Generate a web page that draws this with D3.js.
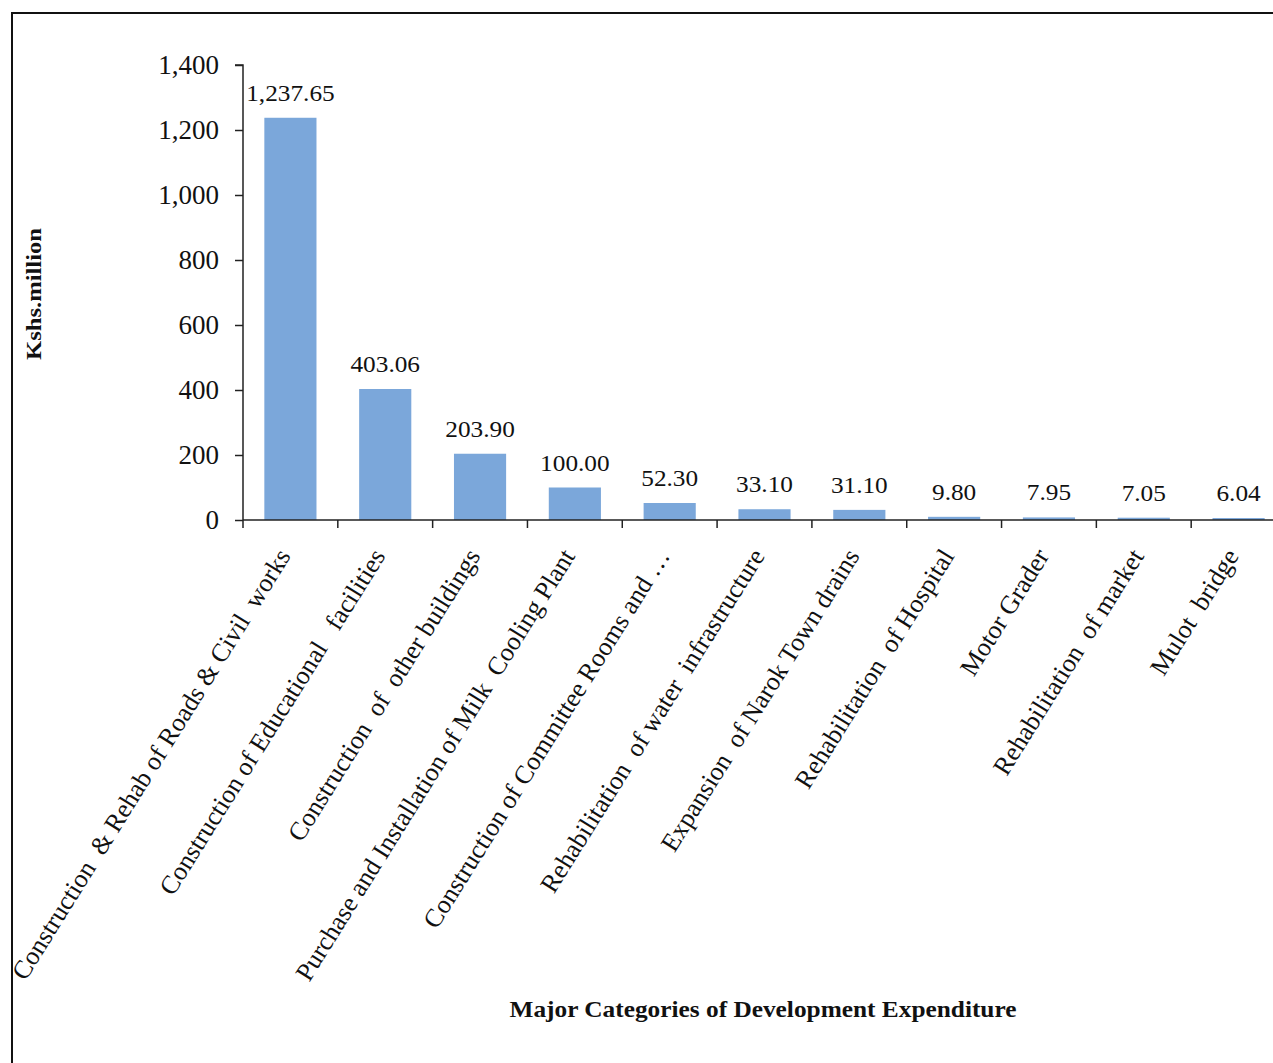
<!DOCTYPE html>
<html>
<head>
<meta charset="utf-8">
<script src="https://cdn.jsdelivr.net/npm/d3@7"></script>
<style>
  html, body { margin: 0; padding: 0; background: #fff; }
  svg { display: block; }
  text { font-family: "Liberation Serif", "Times New Roman", serif; fill: #111; }
</style>
</head>
<body>
<svg id="chart" width="1273" height="1063"></svg>
<script>
const categories = [
  "Construction  & Rehab of Roads & Civil  works",
  "Construction of Educational   facilities",
  "Construction  of  other buildings",
  "Purchase and Installation of Milk  Cooling Plant",
  "Construction of Committee Rooms and \u2026",
  "Rehabilitation  of water  infrastructure",
  "Expansion  of Narok Town drains",
  "Rehabilitation  of Hospital",
  "Motor Grader",
  "Rehabilitation  of market",
  "Mulot  bridge"
];
const values = [1237.65, 403.06, 203.90, 100.00, 52.30, 33.10, 31.10, 9.80, 7.95, 7.05, 6.04];
const yTicks = [0, 200, 400, 600, 800, 1000, 1200, 1400];
const yTitle = "Kshs.million";
const xTitle = "Major Categories of Development Expenditure";

const svg = d3.select("#chart");

// frame
svg.append("rect").attr("x", 12).attr("y", 13).attr("width", 1400).attr("height", 1200)
  .attr("fill", "none").attr("stroke", "#111").attr("stroke-width", 2);

const x = d3.scaleBand().domain(categories).range([243, 1286]).paddingInner(0.45).paddingOuter(0.225);
const y = d3.scaleLinear().domain([0, 1400]).range([520, 65]);

// bars
svg.append("g").selectAll("rect").data(values).join("rect")
  .attr("x", (d, i) => x(categories[i]))
  .attr("y", d => y(d))
  .attr("width", x.bandwidth())
  .attr("height", d => y(0) - y(d))
  .attr("fill", "#7ba7da");

// value labels
const fmt = d3.format(",.2f");
svg.append("g").selectAll("text").data(values).join("text")
  .attr("transform", (d, i) => {
    const cx = x(categories[i]) + x.bandwidth() / 2;
    return `translate(${cx},${y(d) - 17}) scale(1.1,1)`;
  })
  .attr("text-anchor", "middle")
  .style("font-size", "23px")
  .text(d => fmt(d));

// y axis
const yAxis = d3.axisLeft(y).tickValues(yTicks).tickFormat(d3.format(",")).tickSize(8).tickPadding(16);
const gy = svg.append("g").attr("transform", "translate(243,0)").call(yAxis);
gy.select(".domain").attr("stroke", "#222").attr("stroke-width", 1.5).attr("d", "M-8,65H0V520");
gy.selectAll(".tick line").attr("stroke", "#222").attr("stroke-width", 1.5);
gy.selectAll(".tick text").style("font-size", "27px").style("font-family", "Liberation Serif").attr("fill", "#111");

// x axis line
const gx = svg.append("g");
gx.append("line").attr("x1", 243).attr("x2", 1286).attr("y1", y(0)).attr("y2", y(0))
  .attr("stroke", "#222").attr("stroke-width", 1.5);
const step = x.step();
const boundaries = d3.range(categories.length + 1).map(i => x.range()[0] + i * step);
gx.selectAll("line.tk").data(boundaries).join("line").attr("class", "tk")
  .attr("x1", d => d).attr("x2", d => d).attr("y1", y(0)).attr("y2", y(0) + 8)
  .attr("stroke", "#222").attr("stroke-width", 1.5);

// x tick labels
gx.selectAll("text").data(categories).join("text")
  .attr("transform", d => `translate(${x(d) + x.bandwidth() / 2 + 1},${y(0) + 36}) rotate(-58)`)
  .attr("text-anchor", "end")
  .style("font-size", "26px")
  .style("white-space", "pre")
  .text(d => d);

// y title
svg.append("text")
  .attr("transform", "translate(41,294) rotate(-90)")
  .attr("text-anchor", "middle")
  .attr("textLength", 132).attr("lengthAdjust", "spacingAndGlyphs")
  .style("font-size", "21px").style("font-weight", "bold")
  .text(yTitle);

// x title
svg.append("text")
  .attr("x", 763).attr("y", 1017)
  .attr("text-anchor", "middle")
  .attr("textLength", 507).attr("lengthAdjust", "spacingAndGlyphs")
  .style("font-size", "23px").style("font-weight", "bold")
  .text(xTitle);
</script>
</body>
</html>
